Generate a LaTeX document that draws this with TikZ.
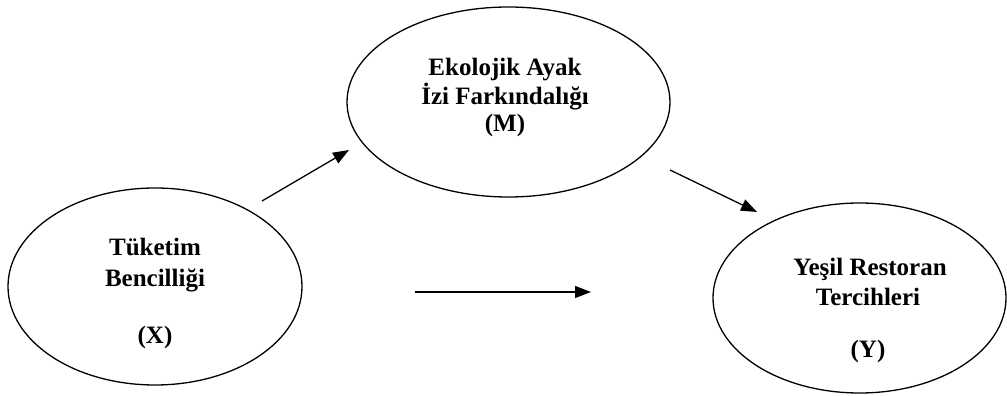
\documentclass[tikz,border=0pt]{standalone}
\usepackage{fontspec}
\setmainfont{Liberation Serif}
\usetikzlibrary{shapes.geometric,arrows.meta}
\begin{document}
\begin{tikzpicture}[x=1pt,y=1pt,
  oval/.style={draw,ellipse,line width=1.3pt,inner sep=0pt},
  lbl/.style={anchor=base,font=\fontsize{25}{30}\selectfont\bfseries,inner sep=0pt},
  link/.style={line width=1.3pt,-{Triangle[length=16pt,width=12pt]}}]
\useasboundingbox (0,0) rectangle (1007,396);
% variables
\node[oval,minimum width=294pt,minimum height=197pt] (X) at (155,109.5) {};
\node[oval,minimum width=323pt,minimum height=190pt] (M) at (508.5,294) {};
\node[oval,minimum width=293pt,minimum height=190pt] (Y) at (859.5,98) {};
% labels
\node[lbl] (x1) at (155,140) {Tüketim};
\node[lbl] (x2) at (155,109) {Bencilliği};
\node[lbl] (x3) at (155,52) {(X)};
\node[lbl] (m1) at (505,320) {Ekolojik Ayak};
\node[lbl] (m2) at (505,291) {İzi Farkındalığı};
\node[lbl] (m3) at (505,264) {(M)};
\node[lbl] (y1) at (870,120) {Yeşil Restoran};
\node[lbl] (y2) at (868,90) {Tercihleri};
\node[lbl] (y3) at (868,38) {(Y)};
% paths
\coordinate (a1) at (262,195);
\coordinate (a2) at (349,246);
\coordinate (b1) at (670,226);
\coordinate (b2) at (757,184);
\coordinate (c1) at (415,104);
\coordinate (c2) at (591,104);
\draw[link] (a1) -- (a2);
\draw[link] (b1) -- (b2);
\draw[link] (c1) -- (c2);
\end{tikzpicture}
\end{document}
